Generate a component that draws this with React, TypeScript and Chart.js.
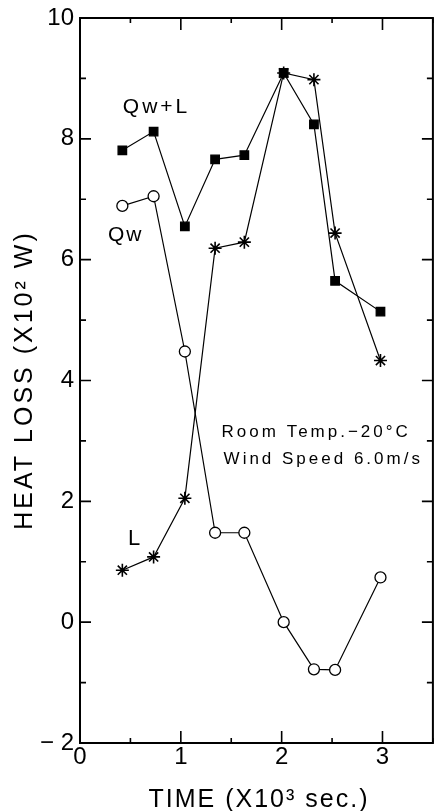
import React, { useEffect, useRef } from "react";
import { Chart, registerables } from "chart.js";

Chart.register(...registerables);

// Time (x10^3 sec.)
const TIME = [0.42, 0.73, 1.04, 1.34, 1.63, 2.02, 2.32, 2.53, 2.98];
// Heat loss (x10^2 W)
const QW_PLUS_L = [7.81, 8.12, 6.55, 7.66, 7.73, 9.09, 8.24, 5.65, 5.14];
const QW = [6.89, 7.05, 4.48, 1.48, 1.48, 0.0, -0.78, -0.79, 0.74];
const L = [0.86, 1.08, 2.05, 6.19, 6.29, 9.09, 8.98, 6.44, 4.33];

const X_TITLE = "TIME (X10³ sec.)";
const Y_TITLE = "HEAT LOSS (X10² W)";
const SERIES_LABELS = ["Qw+L", "Qw", "L"];
const NOTE_LINES = ["Room Temp.−20°C", "Wind Speed 6.0m/s"];

const FONT = '"Liberation Sans", Arial, sans-serif';
const NARROW = '"Liberation Sans Narrow", "Liberation Sans", Arial, sans-serif';

const toPts = (ys: number[]) => TIME.map((x, i) => ({ x, y: ys[i] }));

const decorPlugin = {
  id: "decor",
  afterDraw(chart: any) {
    const { ctx, chartArea: a, scales } = chart;
    const xs = scales.x;
    const ys = scales.y;
    ctx.save();
    ctx.strokeStyle = "#000";
    ctx.fillStyle = "#000";
    // frame
    ctx.lineWidth = 2;
    ctx.strokeRect(a.left, a.top, a.right - a.left, a.bottom - a.top);
    // inward ticks
    ctx.lineWidth = 1.6;
    ctx.beginPath();
    ys.ticks.forEach((t: any) => {
      const p = ys.getPixelForValue(t.value);
      const len = Math.abs(t.value % 2) < 1e-6 ? 11 : 6;
      ctx.moveTo(a.left, p);
      ctx.lineTo(a.left + len, p);
      ctx.moveTo(a.right, p);
      ctx.lineTo(a.right - len, p);
    });
    xs.ticks.forEach((t: any) => {
      const p = xs.getPixelForValue(t.value);
      const len = Math.abs(t.value % 1) < 1e-6 ? 12 : 5;
      ctx.moveTo(p, a.bottom);
      ctx.lineTo(p, a.bottom - len);
      ctx.moveTo(p, a.top);
      ctx.lineTo(p, a.top + len);
    });
    ctx.stroke();

    // axis titles
    ctx.textBaseline = "alphabetic";
    ctx.textAlign = "center";
    ctx.font = `25px ${FONT}`;
    (ctx as any).letterSpacing = "2px";
    ctx.fillText(X_TITLE, 259, 807);
    ctx.save();
    ctx.translate(32, 380);
    ctx.rotate(-Math.PI / 2);
    (ctx as any).letterSpacing = "3px";
    ctx.fillText(Y_TITLE, 0, 0);
    ctx.restore();

    // series labels
    ctx.textAlign = "left";
    (ctx as any).letterSpacing = "3px";
    ctx.font = `21px ${FONT}`;
    ctx.fillText(SERIES_LABELS[0], xs.getPixelForValue(0.425), ys.getPixelForValue(8.42));
    (ctx as any).letterSpacing = "2px";
    ctx.fillText(SERIES_LABELS[1], xs.getPixelForValue(0.277), ys.getPixelForValue(6.31));
    ctx.font = `22px ${FONT}`;
    ctx.fillText(SERIES_LABELS[2], xs.getPixelForValue(0.475), ys.getPixelForValue(1.276));

    // note
    ctx.font = `17px ${FONT}`;
    (ctx as any).letterSpacing = "3px";
    ctx.fillText(NOTE_LINES[0], xs.getPixelForValue(1.404), ys.getPixelForValue(3.07));
    ctx.fillText(NOTE_LINES[1], xs.getPixelForValue(1.424), ys.getPixelForValue(2.61));
    ctx.restore();
  },
};

export default function App() {
  const ref = useRef<HTMLCanvasElement | null>(null);
  useEffect(() => {
    if (!ref.current) return;
    const common = {
      borderColor: "#000",
      borderWidth: 1.2,
      pointBorderColor: "#000",
      pointBorderWidth: 1.3,
      tension: 0,
      fill: false,
    };
    const chart = new Chart(ref.current, {
      type: "scatter",
      data: {
        datasets: [
          {
            ...common,
            label: "Qw+L",
            data: toPts(QW_PLUS_L),
            showLine: true,
            pointStyle: "rect",
            pointRadius: 6,
            pointBackgroundColor: "#000",
          },
          {
            ...common,
            label: "Qw",
            data: toPts(QW),
            showLine: true,
            pointStyle: "circle",
            pointRadius: 5.5,
            pointBackgroundColor: "#fff",
          },
          {
            ...common,
            label: "L",
            data: toPts(L),
            showLine: true,
            pointStyle: "star",
            pointRadius: 6.5,
            pointBorderWidth: 1.6,
            pointBackgroundColor: "#000",
          },
        ],
      },
      options: {
        animation: false,
        responsive: false,
        devicePixelRatio: 1,
        layout: { padding: { top: 14, right: 7, left: 0, bottom: 0 } },
        plugins: {
          legend: { display: false },
          tooltip: { enabled: false },
        },
        scales: {
          x: {
            type: "linear",
            min: 0,
            max: 3.5,
            ticks: {
              stepSize: 0.5,
              color: "#000",
              padding: 2,
              maxRotation: 0,
              autoSkip: false,
              font: { family: NARROW, size: 24, lineHeight: 1 },
              callback: (v: any) => (Math.abs(v % 1) < 1e-6 ? String(v) : ""),
            },
            grid: { display: false, drawTicks: false },
            border: { display: false },
            afterFit: (s: any) => {
              s.height = 68;
            },
          },
          y: {
            type: "linear",
            min: -2,
            max: 10,
            ticks: {
              stepSize: 1,
              color: "#000",
              padding: 6,
              autoSkip: false,
              font: { family: NARROW, size: 24, lineHeight: 1 },
              callback: (v: any) =>
                Math.abs(v % 2) < 1e-6 ? (v < 0 ? "− " + String(-v) : String(v)) : "",
            },
            grid: { display: false, drawTicks: false },
            border: { display: false },
            afterFit: (s: any) => {
              s.width = 80;
            },
          },
        },
      },
      plugins: [decorPlugin],
    } as any);
    return () => chart.destroy();
  }, []);
  return (
    <div style={{ position: "absolute", left: 0, top: 0, width: 441, height: 811, background: "#fff" }}>
      <canvas ref={ref} width={441} height={811} style={{ width: 441, height: 811, display: "block" }} />
    </div>
  );
}
